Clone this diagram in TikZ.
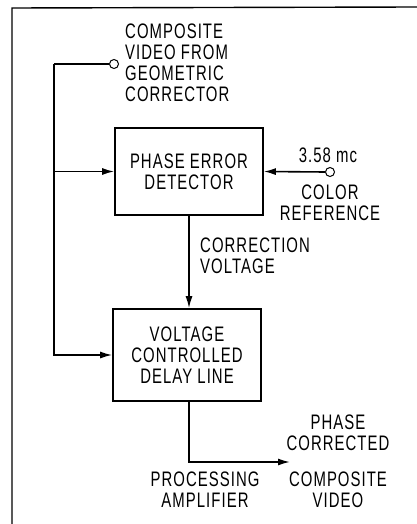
\documentclass[tikz,border=0pt]{standalone}
\usepackage{fontspec}
\setmainfont{Liberation Sans}[FakeStretch=0.71,LetterSpace=5]
\usetikzlibrary{arrows.meta}
\tikzset{
  blk/.style={draw,line width=1.6pt,minimum width=148pt,align=center,font=\fontsize{21}{21}\selectfont},
  term/.style={draw,circle,line width=1pt,fill=white,inner sep=0pt,minimum size=9pt},
  lbl/.style={font=\fontsize{21}{21}\selectfont,inner sep=0pt},
  sig/.style={line width=1.6pt,-{Latex[length=12pt,width=7pt]}}
}
\begin{document}
\begin{tikzpicture}[x=1pt,y=-1pt]
  \useasboundingbox (0,0) rectangle (417,524);
  % frame
  \draw[line width=1.4pt] (12,524) -- (12,8) -- (417,7);
  % blocks
  \node[blk,minimum height=87pt] (det) at (189,171.5) {PHASE ERROR\\DETECTOR};
  \node[blk,minimum height=92pt] (dly) at (187,355) {VOLTAGE\\CONTROLLED\\DELAY LINE};
  % terminals
  \node[term] (vin) at (114,64) {};
  \node[term] (ref) at (330,172) {};
  \coordinate (bus) at (54,64);
  \coordinate (vout) at (290,462);
  % video in to both blocks
  \draw[line width=1.6pt] (vin.west) -- (bus);
  \draw[sig] (bus) |- (dly.west);
  \draw[sig] (bus |- det.west) -- (det.west);
  % colour reference
  \draw[sig] (ref.west) -- (det.east);
  % correction voltage
  \draw[sig] (det.south) -- (dly.north -| det.south);
  % output
  \draw[sig] (dly.south -| det.south) |- (vout);
  % labels
  \node[lbl,align=left,anchor=north west] (tin) at (125,24) {COMPOSITE\\VIDEO FROM\\GEOMETRIC\\CORRECTOR};
  \node[lbl,anchor=south] (tmc) at (328,163) {3.58 mc};
  \node[lbl,align=center,anchor=north] (tref) at (330,185) {COLOR\\REFERENCE};
  \node[lbl,align=left,anchor=north west] (tcv) at (200,238) {CORRECTION\\VOLTAGE};
  \node[lbl,align=center,anchor=north] (tpc) at (338,415) {PHASE\\CORRECTED};
  \node[lbl,align=center,anchor=north] (tcomp) at (338,472) {COMPOSITE\\VIDEO};
  \node[lbl,align=center,anchor=north] (tamp) at (205,472) {PROCESSING\\AMPLIFIER};
\end{tikzpicture}
\end{document}
